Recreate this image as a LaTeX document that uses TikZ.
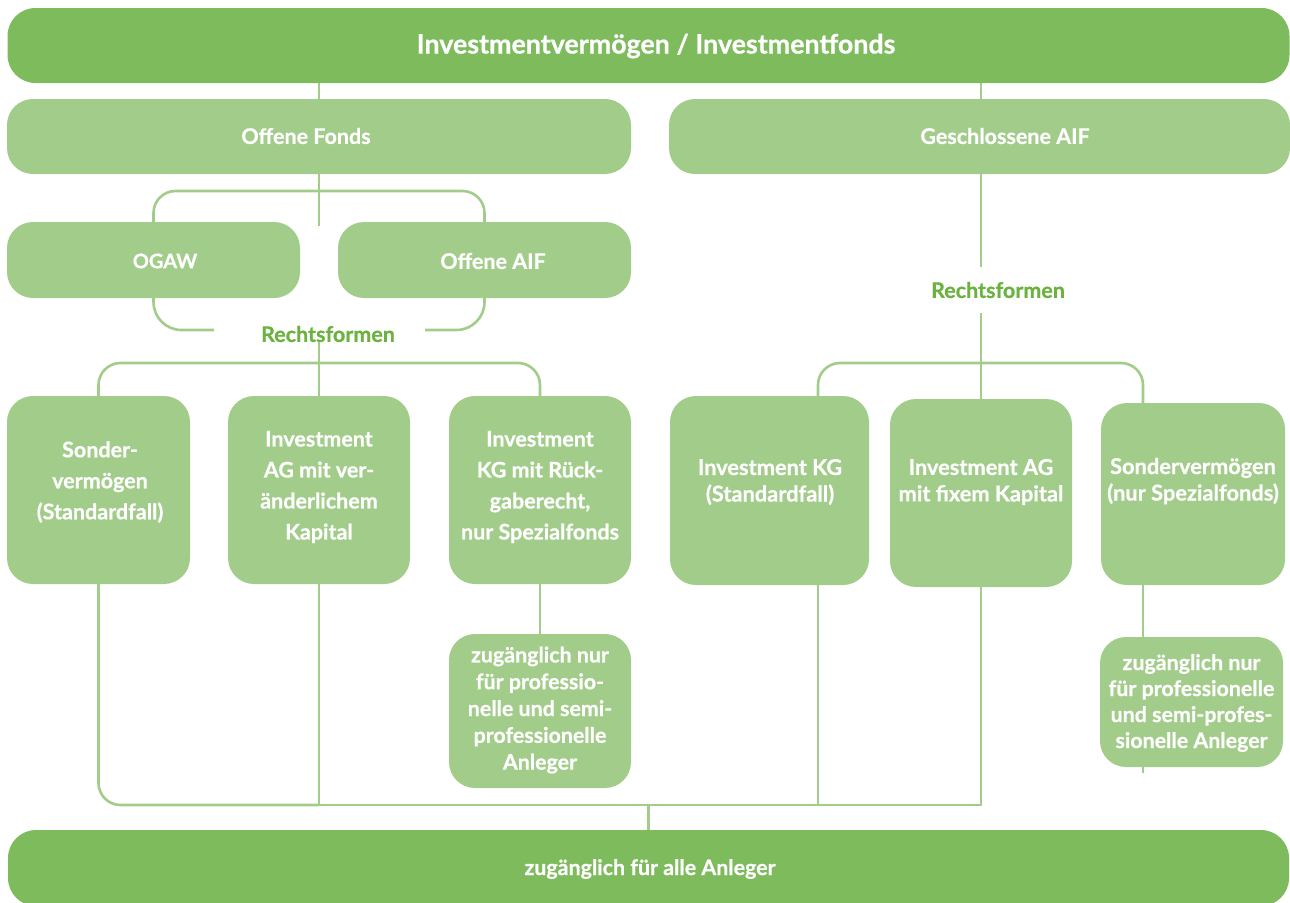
\documentclass[tikz,border=0pt]{standalone}
\usepackage{fontspec}
\setmainfont{Lato}[BoldFeatures={FakeBold=0.7}]
\definecolor{dkgreen}{HTML}{7DBB5D}
\definecolor{ltgreen}{HTML}{A1CC89}
\definecolor{txgreen}{HTML}{6CB241}
\begin{document}
\begin{tikzpicture}[x=1pt,y=-1pt,
  dkbox/.style={fill=dkgreen, draw=none, rounded corners=28pt, inner sep=0pt},
  ltbox/.style={fill=ltgreen, draw=none, rounded corners=26pt, inner sep=0pt},
  wt/.style={text=white, align=center, inner sep=0pt},
  big/.style={font=\bfseries\fontsize{26.8}{30}\selectfont},
  mid/.style={font=\bfseries\fontsize{21.5}{31}\selectfont},
  midr/.style={font=\bfseries\fontsize{21.8}{26.5}\selectfont},
  sml/.style={font=\bfseries\fontsize{21.4}{26.8}\selectfont},
  rf/.style={text=txgreen, inner sep=0pt, font=\bfseries\fontsize{21.5}{24}\selectfont},
  conn/.style={draw=ltgreen, line width=2.6pt},
  brk/.style={conn, rounded corners=22pt},
]
\useasboundingbox (0,0) rectangle (1290,902);

% boxes
\node[dkbox, minimum width=1282pt, minimum height=75pt] (top) at (648.5,45.5) {};
\node[ltbox, minimum width=624pt, minimum height=75pt] (of) at (319,136.5) {};
\node[ltbox, minimum width=621pt, minimum height=75pt] (ga) at (979.5,136.5) {};
\node[ltbox, minimum width=293pt, minimum height=76pt] (ogaw) at (153.5,260) {};
\node[ltbox, minimum width=293pt, minimum height=76pt] (oaif) at (484.5,260) {};
\node[ltbox, minimum width=183pt, minimum height=188pt] (s1) at (98.5,490) {};
\node[ltbox, minimum width=182pt, minimum height=188pt] (s2) at (319,490) {};
\node[ltbox, minimum width=182pt, minimum height=188pt] (s3) at (540,490) {};
\node[ltbox, minimum width=182pt, minimum height=154pt] (z1) at (540,711) {};
\node[ltbox, minimum width=199pt, minimum height=189pt] (r1) at (769.5,490.5) {};
\node[ltbox, minimum width=182pt, minimum height=188pt] (r2) at (981,493) {};
\node[ltbox, minimum width=184pt, minimum height=182pt] (r3) at (1193,494) {};
\node[ltbox, minimum width=183pt, minimum height=130pt] (z2) at (1191.5,702) {};
\node[dkbox, minimum width=1281pt, minimum height=76pt] (bot) at (648.5,868) {};

% texts
\node[wt, big] (topt) at (656,46) {Investmentvermögen / Investmentfonds};
\node[wt, mid] (oft) at (306,136) {Offene Fonds};
\node[wt, mid] (gat) at (1005,136) {Geschlossene AIF};
\node[wt, mid, font=\bfseries\fontsize{20}{24}\selectfont] (ogawt) at (165,261) {OGAW};
\node[wt, mid] (oaift) at (493,261) {Offene AIF};
\node[rf] (rf1) at (328,334) {Rechtsformen};
\node[rf] (rf2) at (998,290) {Rechtsformen};
\node[wt, mid] (s1t) at (100,482) {Sonder-\\vermögen\\(Standardfall)};
\node[wt, mid] (s2t) at (319,487) {Investment\\AG mit ver-\\änderlichem\\Kapital};
\node[wt, mid] (s3t) at (540,487) {Investment\\KG mit Rück-\\gaberecht,\\nur Spezialfonds};
\node[wt, sml] (z1t) at (540,710) {zugänglich nur\\für professio-\\nelle und semi-\\professionelle\\Anleger};
\node[wt, midr] (r1t) at (770,482) {Investment KG\\(Standardfall)};
\node[wt, midr] (r2t) at (981,482) {Investment AG\\mit fixem Kapital};
\node[wt, midr] (r3t) at (1193,481) {Sondervermögen\\(nur Spezialfonds)};
\node[wt, sml, font=\bfseries\fontsize{21.4}{26}\selectfont] (z2t) at (1191.5,703) {zugänglich nur\\für professionelle\\und semi-profes-\\sionelle Anleger};
\node[wt, sml] (bott) at (650,869) {zugänglich für alle Anleger};

% helper coordinates
\coordinate (b1) at (0,191);
\coordinate (b2) at (0,363);
\coordinate (lb1) at (214,330);
\coordinate (lb2) at (425,330);
\coordinate (bus) at (0,805);
\coordinate (rx) at (818,0);
\coordinate (r3x) at (1143,0);
\coordinate (g1) at (981,267);
\coordinate (g2) at (981,313);

% connectors
\draw[conn] (top.south -| of.north) -- (of.north);
\draw[conn] (top.south -| r2.north) -- (ga.north -| r2.north);
\draw[conn] (of.south) -- ++(0,52);
\draw[brk] (ogaw.north) |- (oaif.north |- b1) -- (oaif.north);
\draw[conn, rounded corners=28pt] (ogaw.south) |- (lb1);
\draw[conn, rounded corners=28pt] (oaif.south) |- (lb2);
\draw[conn] (rf1.south -| s2.north) -- (s2.north);
\draw[brk] (s1.north) |- (s3.north |- b2) -- (s3.north);
\draw[conn] (s3.south) -- (z1.north);
\draw[brk] (s1.south) |- (bus -| s2.south);
\draw[conn] (s2.south) -- (bus -| s2.south);
\draw[conn] (r2.south) |- (bus -| s2.south);
\draw[conn] (r1.south -| rx) -- (bus -| rx);
\draw[conn] (bus -| bot.north) -- (bot.north);
\draw[conn] (ga.south -| r2.north) -- (g1);
\draw[conn] (g2) -- (r2.north);
\draw[brk] (r1.north -| rx) |- (b2 -| r3x) -- (r3.north -| r3x);
\draw[conn] (r3.south -| r3x) -- (z2.north -| r3x);
\draw[conn] (z2.south -| r3x) -- ++(0,6);
\end{tikzpicture}
\end{document}
